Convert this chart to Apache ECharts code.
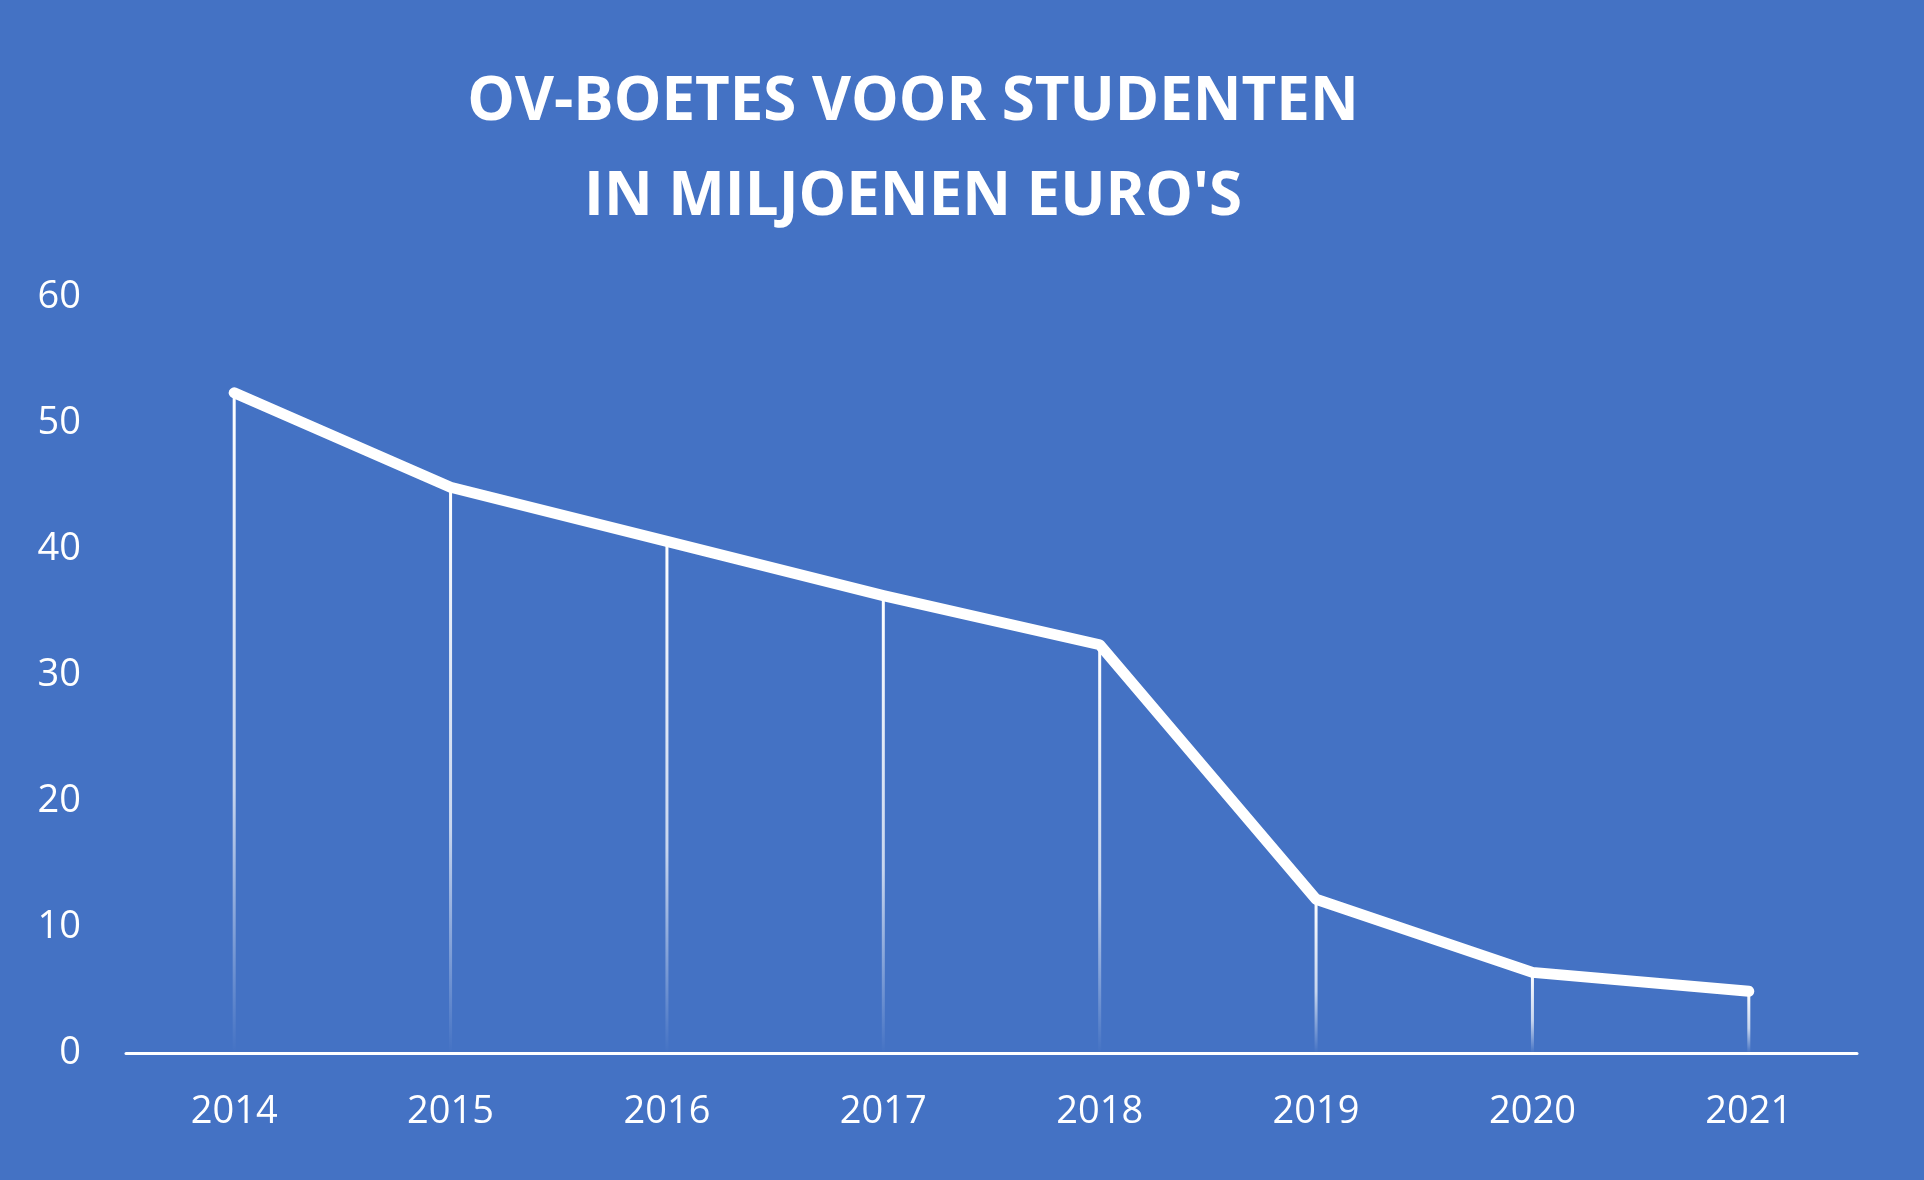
<!DOCTYPE html>
<html>
<head>
<meta charset="utf-8">
<script src="https://cdn.jsdelivr.net/npm/echarts@6/dist/echarts.min.js"></script>
<style>html,body{margin:0;padding:0;background:#4472C4}#main{width:1924px;height:1180px}</style>
</head>
<body>
<div id="main"></div>
<script>
var years = ['2014', '2015', '2016', '2017', '2018', '2019', '2020', '2021'];
var boetes = [52.4, 44.9, 40.6, 36.3, 32.4, 12.2, 6.4, 4.9];
var yTicks = [0, 10, 20, 30, 40, 50, 60];

var myChart = echarts.init(document.getElementById('main'));
var option = {
	backgroundColor: '#4472C4',
	title: {
		text: "OV-BOETES VOOR STUDENTEN\nIN MILJOENEN EURO'S",
		left: 908,
		textAlign: 'center',
		top: 50,
		textStyle: {color: '#fff', fontFamily: 'Open Sans', fontWeight: 'bold', fontSize: 60, lineHeight: 95}
	},
	grid: {left: 126, right: 67, top: 297, bottom: 127},
	xAxis: {
		type: 'category',
		data: years,
		boundaryGap: true,
		axisLine: {lineStyle: {color: '#fff', width: 3}},
		axisTick: {show: false},
		axisLabel: {color: '#fff', fontSize: 38, fontFamily: 'Open Sans', margin: 40}
	},
	yAxis: {
		type: 'value',
		min: 0, max: 60, interval: 10,
		axisLine: {show: false},
		axisTick: {show: false},
		splitLine: {show: false},
		axisLabel: {color: '#fff', fontSize: 38, fontFamily: 'Open Sans', margin: 45,
			formatter: function (v) { return yTicks.indexOf(v) >= 0 ? v : ''; }}
	},
	series: [{
		type: 'bar',
		data: boetes,
		barWidth: 3,
		silent: true,
		itemStyle: {
			color: new echarts.graphic.LinearGradient(0, 0, 0, 1, [
				{offset: 0, color: 'rgba(255,255,255,1)'},
				{offset: 0.6, color: 'rgba(255,255,255,0.7)'},
				{offset: 1, color: 'rgba(255,255,255,0)'}
			])
		}
	}, {
		type: 'line',
		data: boetes,
		symbol: 'none',
		lineStyle: {color: '#fff', width: 11, cap: 'round', join: 'round'}
	}]
};
myChart.setOption(option);
</script>
</body>
</html>
